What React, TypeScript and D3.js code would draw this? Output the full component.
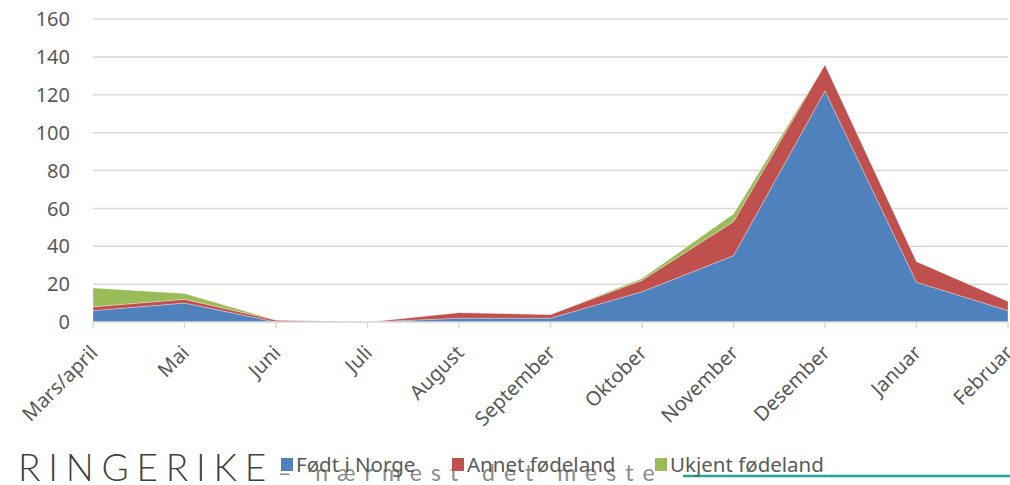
import React from 'react';
import * as d3 from 'd3';

// month categories (Excel style stacked area)
const months = [
  "Mars/april", "Mai", "Juni", "Juli", "August", "September",
  "Oktober", "November", "Desember", "Januar", "Februar",
];

// values
const fodtINorge = [6, 10, 0, 0, 2, 2, 16, 35, 122, 21, 6];
const annetFodeland = [2, 2, 1, 0, 3, 2, 6, 18, 14, 11, 5];
const ukjentFodeland = [10, 3, 0, 0, 0, 0, 1, 4, 0, 0, 0];

const seriesNames = ["Født i Norge", "Annet fødeland", "Ukjent fødeland"];
const colors = ["#4F81BD", "#C0504D", "#9BBB59"];
const yTicks = [0, 20, 40, 60, 80, 100, 120, 140, 160];

const W = 1010;
const H = 485;
const font = "'Noto Sans', 'Open Sans', sans-serif";

export default function App() {
  // build a table for d3.stack
  const table = months.map((m, i) => ({
    month: m,
    a: fodtINorge[i],
    b: annetFodeland[i],
    c: ukjentFodeland[i],
  }));
  const stacked = d3.stack<any>().keys(["a", "b", "c"])(table);

  const x = d3.scalePoint<string>().domain(months).range([93, 1008]);
  const y = d3.scaleLinear().domain([0, 160]).range([322, 19]);

  const area = d3
    .area<any>()
    .x((d) => x(d.data.month) as number)
    .y0((d) => y(d[0]))
    .y1((d) => y(d[1]));

  return (
    <svg
      width={W}
      height={H}
      style={{ position: 'absolute', left: 0, top: 0, background: '#fff' }}
    >
      {/* grid */}
      {yTicks.map((t) => (
        <g key={t}>
          {t > 0 && (
            <line x1={93} x2={1008} y1={y(t)} y2={y(t)} stroke="#D9D9D9" strokeWidth={1.5} />
          )}
          <text
            x={70}
            y={y(t)}
            dy="0.36em"
            textAnchor="end"
            fill="#595959"
            style={{ fontFamily: font, fontSize: 20 }}
          >
            {t}
          </text>
        </g>
      ))}

      {/* areas */}
      {stacked.map((s, i) => (
        <path key={i} d={area(s) || ''} fill={colors[i]} stroke="#ffffff" strokeOpacity={0.5} strokeWidth={0.6} />
      ))}

      {/* x axis */}
      <line x1={93} x2={1008} y1={y(0)} y2={y(0)} stroke="#D9D9D9" strokeWidth={1.5} />
      {months.map((m) => (
        <g key={m}>
          <line x1={x(m)} x2={x(m)} y1={y(0)} y2={y(0) + 6} stroke="#D9D9D9" strokeWidth={1.5} />
          <text
            transform={`translate(${(x(m) as number) + 6}, 354) rotate(-45)`}
            textAnchor="end"
            fill="#595959"
            style={{ fontFamily: font, fontSize: 20 }}
          >
            {m}
          </text>
        </g>
      ))}

      {/* branding */}
      <text
        x={18}
        y={481}
        fill="#404040"
        style={{ fontFamily: "Lato, 'Open Sans', sans-serif", fontWeight: 300, fontSize: 37, letterSpacing: 7.8 }}
      >
        RINGERIKE
      </text>
      <text
        x={278}
        y={481}
        fill="#8a8a8a"
        style={{ fontFamily: "Lato, 'Open Sans', sans-serif", fontWeight: 400, fontSize: 23, letterSpacing: 9 }}
      >
        – nærmest det meste
      </text>
      <line x1={683} x2={1010} y1={476} y2={476} stroke="#1FA59C" strokeWidth={2.5} />

      {/* legend */}
      {seriesNames.map((n, i) => {
        const lx = [281, 452, 655][i];
        return (
          <g key={n}>
            <rect x={lx} y={458} width={12} height={13} fill={colors[i]} />
            <text
              x={lx + 15}
              y={472}
              fill="#595959"
              style={{ fontFamily: font, fontSize: 20.5 }}
            >
              {n}
            </text>
          </g>
        );
      })}
    </svg>
  );
}
